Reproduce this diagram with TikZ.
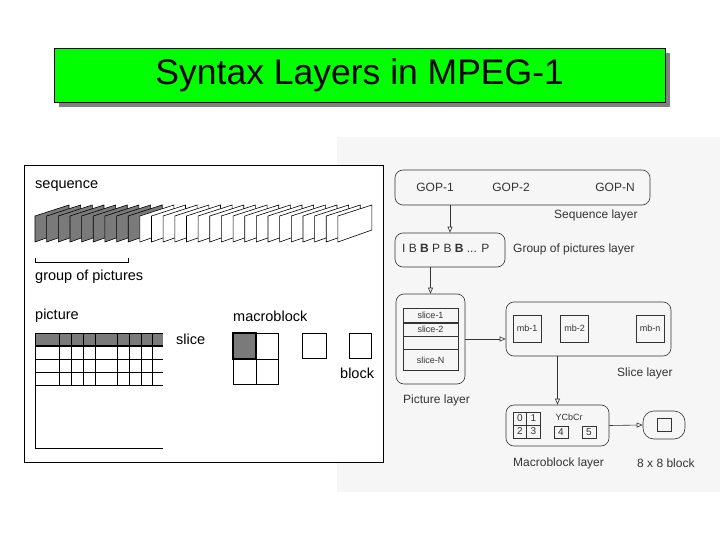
\documentclass[tikz,border=0pt]{standalone}
\usepackage{fontspec}
\setmainfont{Liberation Sans}
\usetikzlibrary{arrows.meta,positioning}
\definecolor{titlegreen}{HTML}{00FF00}
\definecolor{shadowgray}{HTML}{808080}
\definecolor{framegray}{HTML}{7A7A7A}
\definecolor{panelgray}{HTML}{F6F6F6}
\definecolor{inkgray}{HTML}{333333}

\begin{document}
\begin{tikzpicture}[x=1pt,y=-1pt,>={Triangle[open,length=6pt,width=5pt]},
    lbl/.style={anchor=west,inner sep=0,font=\fontsize{14.5}{14.5}\selectfont},
    small/.style={anchor=west,inner sep=0,text=inkgray,font=\fontsize{12}{12}\selectfont},
    tiny/.style={inner sep=0,text=inkgray,font=\fontsize{9}{9}\selectfont},
    layer/.style={draw=inkgray,line width=.6pt,rounded corners=8pt,inner sep=0},
    cell/.style={draw=inkgray,line width=.6pt,inner sep=0,minimum width=#1,minimum height=#1},
    conn/.style={->,draw=inkgray,line width=.6pt}]
    \useasboundingbox (0,0) rectangle (720,540);
    % title bar
    \fill[shadowgray] (59,53) rectangle (670,107);
    \node[draw=black,fill=titlegreen,anchor=north west,minimum width=611pt,minimum height=54pt,
        font=\fontsize{35.5}{35.5}\selectfont](title)at(54,48){Syntax Layers in MPEG-1};
    % panels
    \fill[panelgray](337,137)rectangle(720,492);
    \draw[fill=white,line width=.8pt](24,165)rectangle(383,462);
    % sequence of frames
    \node[lbl](seqlbl)at(35,186){sequence};
    \foreach \i [evaluate=\i as \fx using 35+\i*11.65] in {0,...,26}{
        \ifnum\i<9 \def\fc{framegray}\else\def\fc{white}\fi
        \draw[fill=\fc,line width=.6pt](\fx,216)--++(34,-11)--++(0,25)--(\fx,242)--cycle;
    }
    \draw[line width=.6pt](35,258)--(35,262)--(128,262)--(128,258);
    \node[lbl](goplbl)at(35,277){group of pictures};
    % picture
    \node[lbl](piclbl)at(35,316){picture};
    \fill[framegray](35,333)rectangle(163,346);
    \foreach \y in {333,359,372,385,448}
        \draw[line width=.6pt](35,\y)--(163,\y);
    \draw[line width=1.6pt](35,346)--(163,346);
    \draw[line width=.6pt](35,333)--(35,448);
    \foreach \x in {59,71,83,95,117,129,141,152}
        \draw[line width=.6pt](\x,333)--(\x,385);
    \node[lbl](slicelbl)at(176,339){slice};
    % macroblock and blocks
    \node[lbl](mblbl)at(233,316){macroblock};
    \fill[framegray](233,333)rectangle(256,359);
    \draw[line width=.6pt](233,333)rectangle(278,384);
    \draw[line width=.6pt](256,333)--(256,384);
    \draw[line width=.6pt](233,359)--(278,359);
    \draw[line width=1.4pt](233,333)rectangle(256,359);
    \draw[line width=.6pt](302,333)rectangle(326,358);
    \draw[line width=.6pt](349,333)rectangle(371,358);
    \node[lbl](blocklbl)at(340,373){block};
    % sequence layer
    \node[layer,minimum width=255pt,minimum height=35pt](seq)at(522.5,187.5){};
    \node[small,anchor=center](gop1)at(435,187){GOP-1};
    \node[small,anchor=center](gop2)at(511,187){GOP-2};
    \node[small,anchor=center](gopn)at(615,187){GOP-N};
    \node[small](seqname)at(554,215){Sequence layer};
    % group of pictures layer
    \node[layer,minimum width=110pt,minimum height=34pt](gop)at(450,250){};
    \node[small](gopseq)at(402,248){I B \textbf{B} P B \textbf{B} ... P};
    \node[small](gopname)at(513,249){Group of pictures layer};
    % picture layer
    \node[layer,minimum width=69pt,minimum height=90pt](pic)at(430.5,339){};
    \draw[inkgray,line width=.6pt](403,308)rectangle(458,370);
    \draw[inkgray,line width=.6pt](403,336)--(458,336);
    \draw[inkgray,line width=.6pt](403,349)--(458,349);
    \draw[inkgray,line width=1.2pt](403,323)--(458,323);
    \node[tiny](s1)at(430.5,315.5){slice-1};
    \node[tiny](s2)at(430.5,329.5){slice-2};
    \node[tiny](sn)at(430.5,360){slice-N};
    \node[small](picname)at(403,400){Picture layer};
    % slice layer
    \node[layer,minimum width=165pt,minimum height=54pt](slc)at(588.5,329){};
    \node[cell=27pt,minimum width=28pt,font=\fontsize{9}{9}\selectfont,text=inkgray](mb1)at(527,328.5){mb-1};
    \node[cell=27pt,minimum width=28pt,font=\fontsize{9}{9}\selectfont,text=inkgray](mb2)at(574.5,328.5){mb-2};
    \node[cell=27pt,minimum width=28pt,font=\fontsize{9}{9}\selectfont,text=inkgray](mbn)at(650,328.5){mb-n};
    \node[small](slcname)at(617,373){Slice layer};
    % macroblock layer
    \node[layer,minimum width=103pt,minimum height=41pt](mbl)at(557.5,425.5){};
    \draw[inkgray,line width=.6pt](513,412)rectangle(540,438);
    \draw[inkgray,line width=.6pt](526.5,412)--(526.5,438);
    \draw[inkgray,line width=.6pt](513,425)--(540,425);
    \node[tiny,font=\fontsize{10}{10}\selectfont](y0)at(519.8,418.5){0};
    \node[tiny,font=\fontsize{10}{10}\selectfont](y1)at(533.3,418.5){1};
    \node[tiny,font=\fontsize{10}{10}\selectfont](y2)at(519.8,431.5){2};
    \node[tiny,font=\fontsize{10}{10}\selectfont](y3)at(533.3,431.5){3};
    \node[tiny](ycbcr)at(569,417){YCbCr};
    \node[cell=12pt,minimum width=14pt,font=\fontsize{10}{10}\selectfont,text=inkgray](cb)at(561,432){4};
    \node[cell=12pt,minimum width=14pt,font=\fontsize{10}{10}\selectfont,text=inkgray](cr)at(589,432){5};
    \node[small](mblname)at(513,463){Macroblock layer};
    % 8 x 8 block
    \node[layer,rounded corners=11pt,minimum width=42pt,minimum height=28pt](blk)at(664,425){};
    \node[cell=13pt,minimum width=14pt](pix)at(blk){};
    \node[small](blkname)at(637,463){8 x 8 block};
    % arrows
    \draw[conn](seq.south -| gop.north)--(gop.north);
    \draw[conn](gop.south -| pic.north)--(pic.north);
    \draw[conn](pic.east)--(pic.east -| slc.west);
    \draw[conn](slc.south -| mbl.north)--(mbl.north);
    \draw[conn](mbl.east)--(blk.west);
\end{tikzpicture}
\end{document}
